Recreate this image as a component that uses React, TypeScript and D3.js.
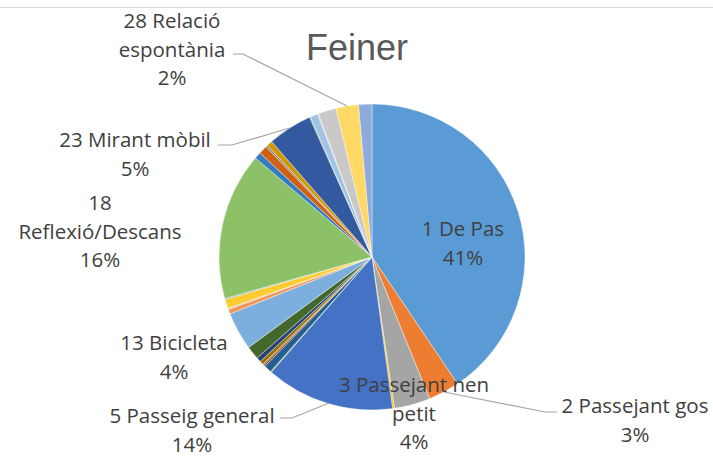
import React, { useEffect, useRef } from 'react'
import * as d3 from 'd3'

// categories (only the labelled ones have a readable name in the picture)
const categories = [
  '1 De Pas', '2 Passejant gos', '3 Passejant nen petit', '4', '5 Passeig general',
  '6', '7', '8', '9', '10', '11', '12', '13 Bicicleta', '14', '15', '16', '17',
  '18 Reflexió/Descans', '19', '20', '21', '22', '23 Mirant mòbil', '24', '25',
  '26', '27', '28 Relació espontània', '29',
]

// share of each category (percent)
const values = [
  40.6, 3.3, 3.8, 0.2, 13.6, 0.1, 0.8, 0.2, 0.1, 0.4, 0.5, 1.4, 4.0, 0.5, 0.1, 1.0, 0.1,
  15.6, 0.7, 0.9, 0.2, 0.6, 4.7, 0.1, 0.8, 0.1, 1.9, 2.4, 1.4,
]

// excel default colour cycle
const colors = [
  '#5B9BD5', '#ED7D31', '#A5A5A5', '#FFC000', '#4472C4', '#70AD47',
  '#255E91', '#9E480E', '#636363', '#997300', '#264478', '#43682B',
  '#7CAFDD', '#F1975A', '#B7B7B7', '#FFCD33', '#698ED0', '#8CC168',
  '#327DC2', '#D26012', '#848484', '#CC9A00', '#335AA0', '#5C8C37',
  '#9DC3E6', '#F4B183', '#C9C9C9', '#FFD966', '#8FAADC',
]

// which slices carry a label, where it sits, and where the text wraps
const labelLayout = [
  { cat: '1 De Pas', x: 463, y: 236, breaks: [] },
  { cat: '2 Passejant gos', x: 635, y: 413, breaks: [], leader: [557, 412, 545] },
  { cat: '3 Passejant nen petit', x: 414, y: 392, breaks: [3] },
  { cat: '5 Passeig general', x: 192, y: 423, breaks: [], leader: [280, 418, 292] },
  { cat: '13 Bicicleta', x: 174, y: 350, breaks: [] },
  { cat: '18 Reflexió/Descans', x: 100, y: 210, breaks: [1] },
  { cat: '23 Mirant mòbil', x: 135, y: 147, breaks: [], leader: [218, 145, 232] },
  { cat: '28 Relació espontània', x: 172, y: 28, breaks: [2], leader: [233, 54, 243] },
]

const width = 713
const height = 457

export default function App() {
  const ref = useRef<SVGSVGElement>(null)

  useEffect(() => {
    const svg = d3.select(ref.current)
    svg.selectAll('*').remove()

    const cx = 372, cy = 257, radius = 153
    const total = d3.sum(values)
    const fmt = d3.format('.0%')

    // faint frame line at the top
    svg.append('line')
      .attr('x1', 0).attr('x2', width)
      .attr('y1', 7.5).attr('y2', 7.5)
      .attr('stroke', '#d9d9d9')

    const g = svg.append('g').attr('transform', `translate(${cx},${cy})`)

    const pie = d3.pie<number>().sort(null).value(d => d)
    const arcs = pie(values)
    const arc = d3.arc<d3.PieArcDatum<number>>().innerRadius(0).outerRadius(radius)

    g.selectAll('path')
      .data(arcs)
      .join('path')
      .attr('d', arc)
      .attr('fill', (d, i) => colors[i])
      .attr('stroke', '#ffffff')
      .attr('stroke-width', 0.4)

    // title
    svg.append('text')
      .attr('x', 357).attr('y', 60)
      .attr('text-anchor', 'middle')
      .style('font-family', '"Liberation Sans", Arial, sans-serif')
      .style('font-size', '36px')
      .attr('fill', '#595959')
      .text('Feiner')

    const lineH = 28.5
    labelLayout.forEach(l => {
      const i = categories.indexOf(l.cat)
      const a = arcs[i]
      const mid = (a.startAngle + a.endAngle) / 2
      const px = cx + radius * Math.sin(mid)
      const py = cy - radius * Math.cos(mid)

      if (l.leader) {
        const [x0, y0, xe] = l.leader
        svg.append('path')
          .attr('d', d3.line()([[x0, y0], [xe, y0], [px, py]]))
          .attr('fill', 'none')
          .attr('stroke', '#a6a6a6')
          .attr('stroke-width', 1.2)
      }

      const words = l.cat.split(' ')
      const lines: string[] = []
      let start = 0
      l.breaks.forEach(b => { lines.push(words.slice(start, b).join(' ')); start = b })
      lines.push(words.slice(start).join(' '))
      lines.push(fmt(values[i] / total))

      const t = svg.append('text')
        .attr('text-anchor', 'middle')
        .style('font-family', '"Open Sans", "Noto Sans", sans-serif')
        .style('font-size', '20.5px')
        .attr('fill', '#404040')
      lines.forEach((s, k) => {
        t.append('tspan').attr('x', l.x).attr('y', l.y + k * lineH).text(s)
      })
    })
  }, [])

  return (
    <svg
      ref={ref}
      width={width}
      height={height}
      style={{ position: 'absolute', left: 0, top: 0, background: '#fff' }}
    />
  )
}
